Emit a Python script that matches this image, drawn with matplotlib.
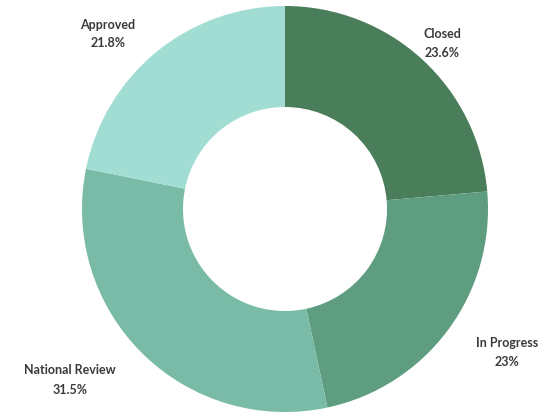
import matplotlib
matplotlib.use("Agg")
import matplotlib.pyplot as plt

categories = ["Closed", "In Progress", "National Review", "Approved"]
values = [23.6, 23.0, 31.5, 21.8]
pct_labels = ["23.6%", "23%", "31.5%", "21.8%"]
colors = ["#4a7d5a", "#5e9d80", "#79bba6", "#a2ddd4"]

W, H = 556, 414
fig = plt.figure(figsize=(W / 100, H / 100), dpi=100)
ax = fig.add_axes([0, 0, 1, 1])
cx, cy, R = 285, H - 210, 203
ax.pie(values, colors=colors, startangle=90, counterclock=False,
       radius=R, center=(cx, cy), wedgeprops=dict(width=R - 102, linewidth=0))
ax.set_xlim(0, W)
ax.set_ylim(0, H)
ax.set_aspect("equal")
ax.axis("off")

# label anchor positions in pixels (name line y, pct line y)
label_pos = {
    "Closed": (442, 34, 53),
    "In Progress": (507, 343, 362),
    "National Review": (70, 370, 390),
    "Approved": (108, 25, 43),
}
for name, pct in zip(categories, pct_labels):
    x, y1, y2 = label_pos[name]
    fig.text(x / W, 1 - y1 / H, name, ha="center", va="center",
             fontsize=9, fontweight="bold", color="#3a3a3a", family="Lato")
    fig.text(x / W, 1 - y2 / H, pct, ha="center", va="center",
             fontsize=9, fontweight="bold", color="#3a3a3a", family="Lato")

fig.savefig("out.png", dpi=100, facecolor="white")
